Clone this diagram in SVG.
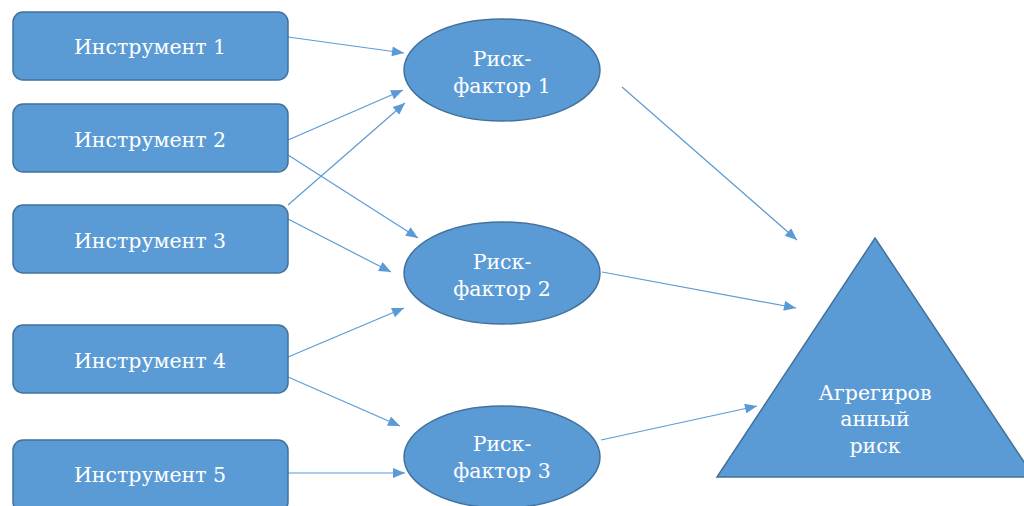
<svg xmlns="http://www.w3.org/2000/svg" width="1024" height="506" viewBox="0 0 1024 506">
<style>
.n{fill:#5B9BD5;stroke:#41719C;stroke-width:1.5}
.t{fill:#fff;font-family:'DejaVu Serif',serif;font-size:20.5px;text-anchor:middle}
.c{stroke:#5B9BD5;stroke-width:1.2;fill:none;marker-end:url(#a)}
</style>
<defs>
<marker id="a" viewBox="0 0 12 10" refX="12" refY="5" markerWidth="13" markerHeight="10" markerUnits="userSpaceOnUse" orient="auto">
<path d="M0,0L12,5L0,10z" fill="#5B9BD5"/>
</marker>
</defs>
<rect width="1024" height="506" fill="#fff"/>
<g id="connectors">
<line class="c" x1="288" y1="37" x2="404" y2="53"/>
<line class="c" x1="288" y1="140" x2="403" y2="90"/>
<line class="c" x1="288" y1="205" x2="405" y2="103"/>
<line class="c" x1="288" y1="155" x2="418" y2="238"/>
<line class="c" x1="288" y1="219" x2="391" y2="272"/>
<line class="c" x1="288" y1="357" x2="404" y2="308"/>
<line class="c" x1="288" y1="377" x2="400" y2="426"/>
<line class="c" x1="288" y1="473" x2="405" y2="473"/>
<line class="c" x1="622" y1="87" x2="797" y2="240"/>
<line class="c" x1="602" y1="272" x2="796" y2="308"/>
<line class="c" x1="601" y1="440" x2="757" y2="406"/>
</g>
<g id="instr1"><rect class="n" x="13" y="12" width="275" height="68" rx="10"/><text class="t" x="150" y="54">Инструмент 1</text></g>
<g id="instr2"><rect class="n" x="13" y="104" width="275" height="68" rx="10"/><text class="t" x="150" y="147">Инструмент 2</text></g>
<g id="instr3"><rect class="n" x="13" y="205" width="275" height="68" rx="10"/><text class="t" x="150" y="248">Инструмент 3</text></g>
<g id="instr4"><rect class="n" x="13" y="325" width="275" height="68" rx="10"/><text class="t" x="150" y="368">Инструмент 4</text></g>
<g id="instr5"><rect class="n" x="13" y="440" width="275" height="72" rx="10"/><text class="t" x="150" y="482">Инструмент 5</text></g>
<g id="rf1"><ellipse class="n" cx="502" cy="70" rx="98" ry="51"/><text class="t" x="502" y="66">Риск-</text><text class="t" x="502" y="93">фактор 1</text></g>
<g id="rf2"><ellipse class="n" cx="502" cy="273" rx="98" ry="51"/><text class="t" x="502" y="269">Риск-</text><text class="t" x="502" y="296">фактор 2</text></g>
<g id="rf3"><ellipse class="n" cx="502" cy="457" rx="98" ry="51"/><text class="t" x="502" y="451">Риск-</text><text class="t" x="502" y="478">фактор 3</text></g>
<g id="agg"><polygon class="n" points="875,238 1034,477 717,477"/><text class="t" x="875" y="400">Агрегиров</text><text class="t" x="875" y="426">анный</text><text class="t" x="875" y="453">риск</text></g>
</svg>
